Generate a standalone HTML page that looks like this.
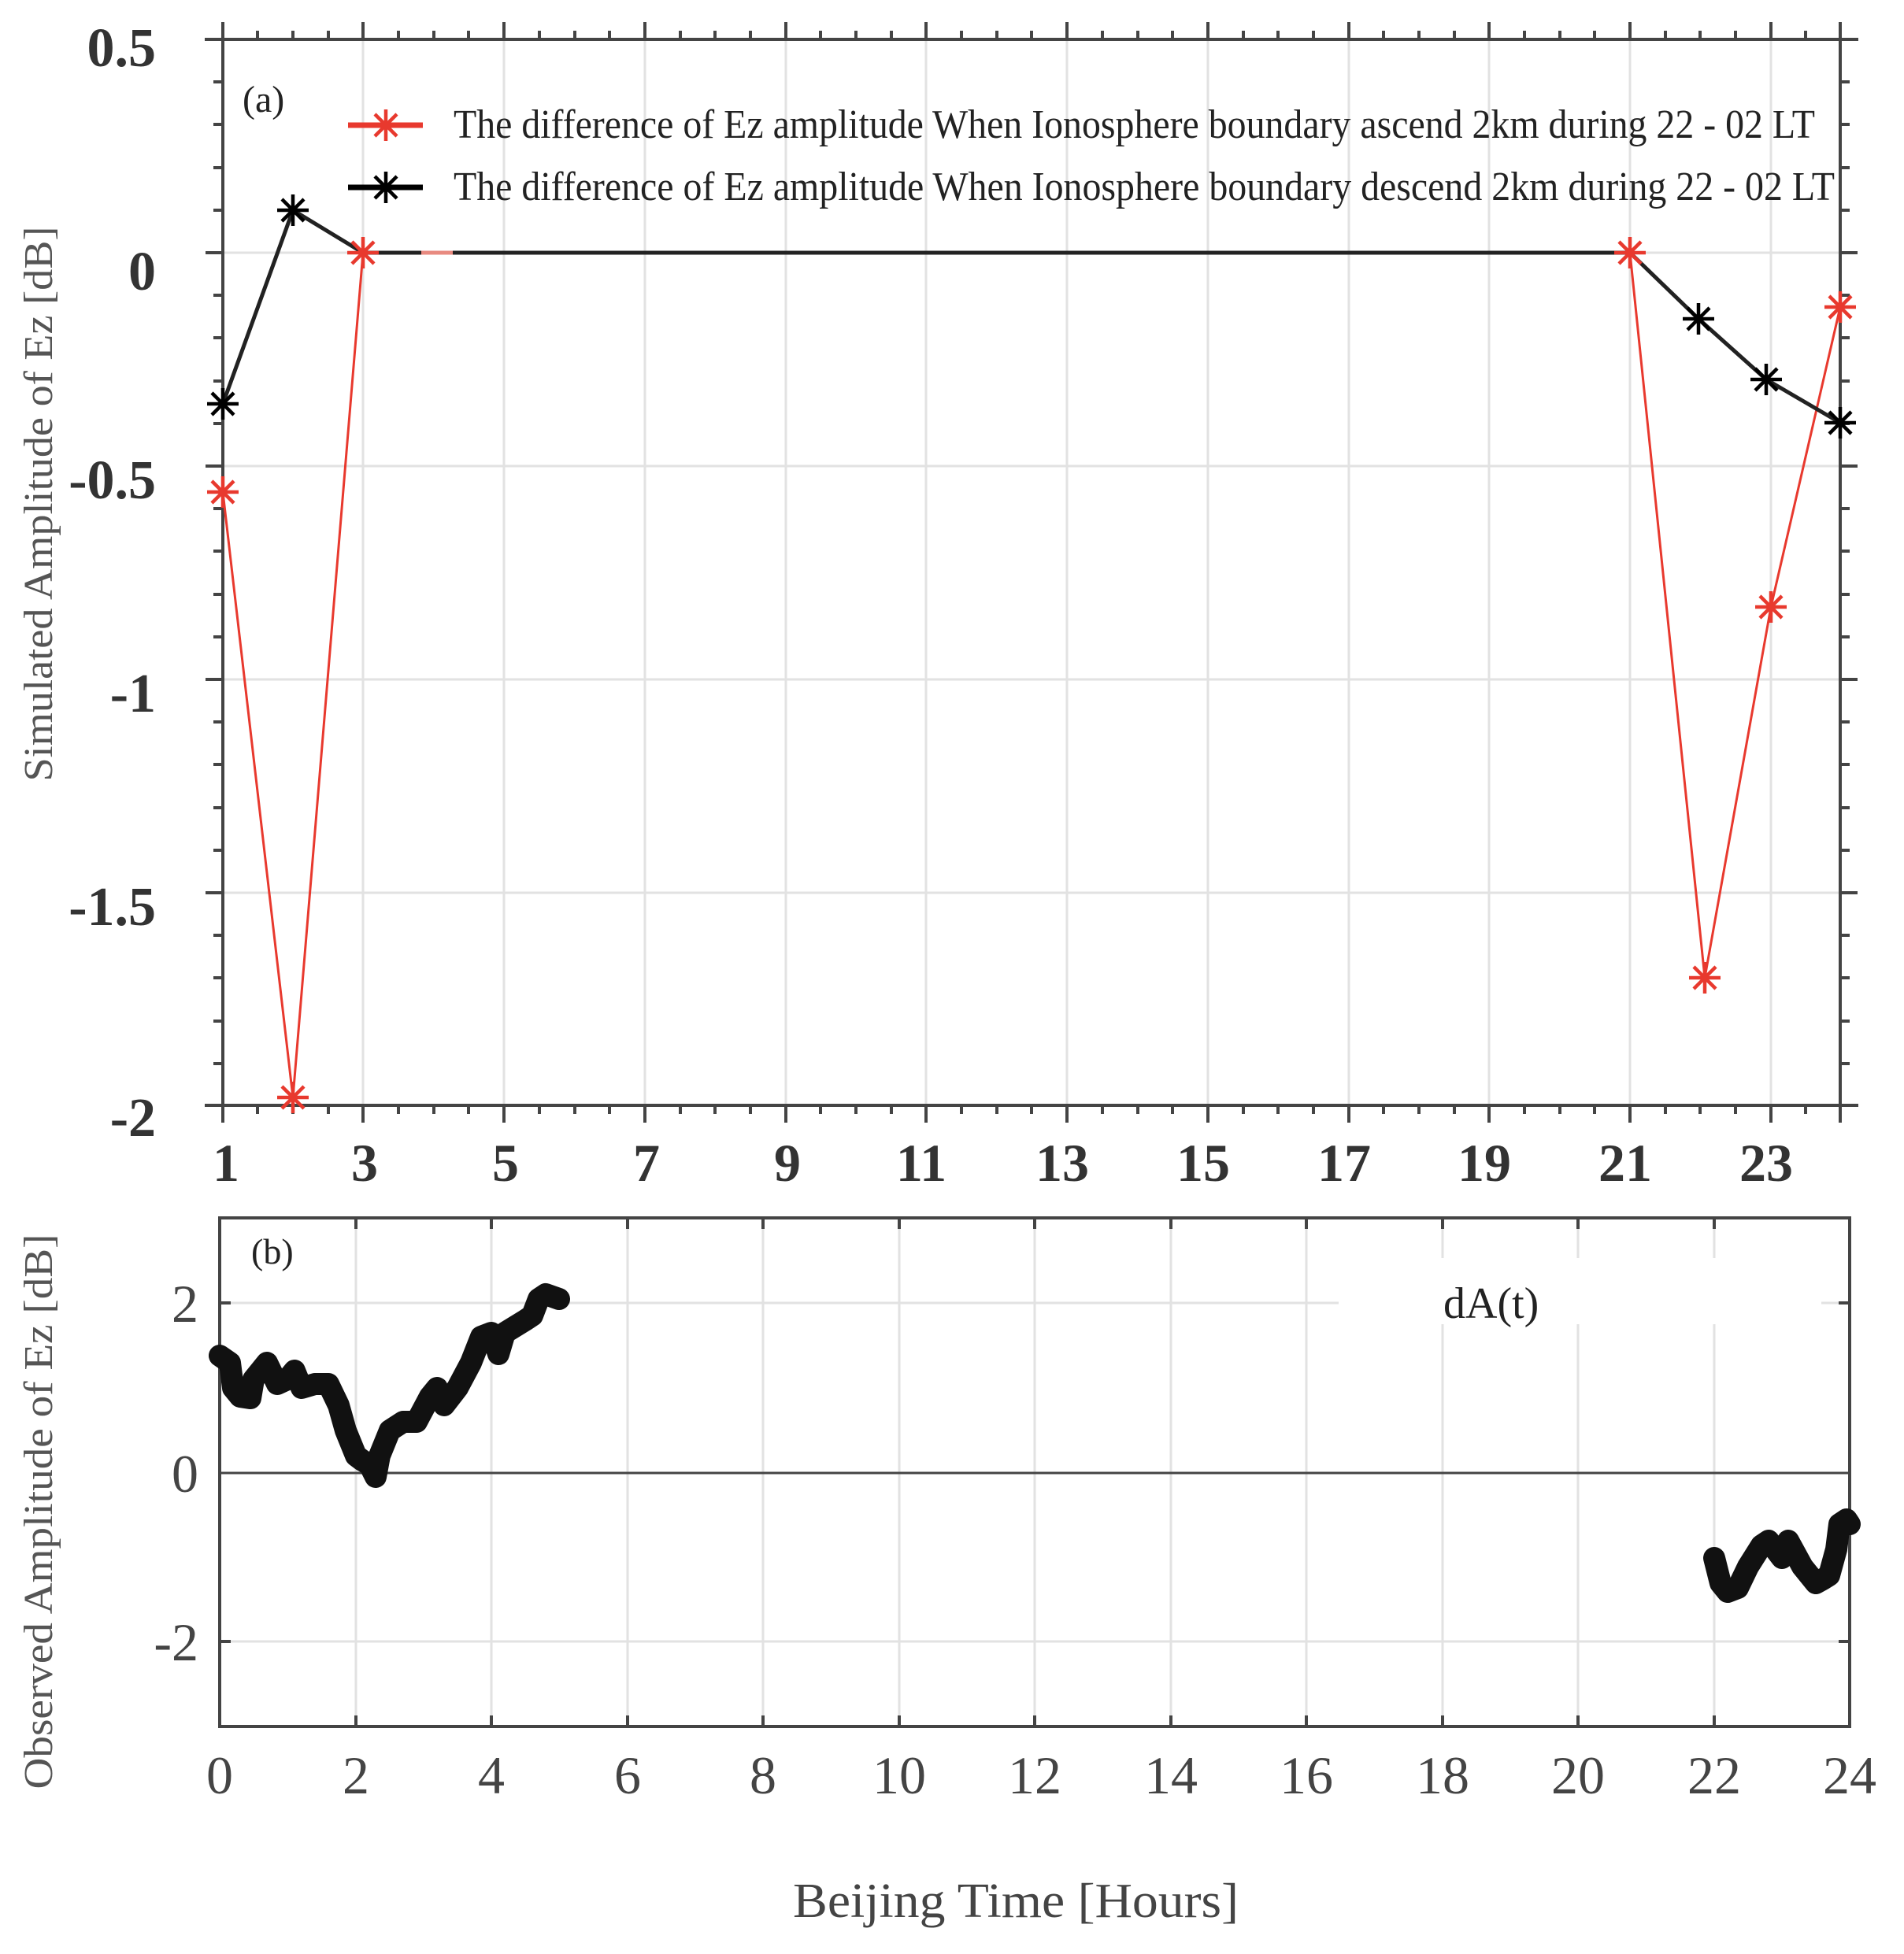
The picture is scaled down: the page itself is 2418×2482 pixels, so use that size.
<!DOCTYPE html>
<html><head><meta charset="utf-8"><style>html,body{margin:0;padding:0;background:#fff}svg{display:block}</style></head>
<body>
<svg width="2418" height="2482" viewBox="0 0 2418 2482" xmlns="http://www.w3.org/2000/svg" font-family="Liberation Serif, serif">
<defs>
<g id="ast"><path d="M-20,0H20M0,-20V20M-14,-14L14,14M-14,14L14,-14" stroke-width="4.5"/></g>
</defs>
<!-- Panel (a) grid -->
<g stroke="#e2e2e2" stroke-width="3">
<line x1="461" y1="50" x2="461" y2="1404"/><line x1="640" y1="50" x2="640" y2="1404"/><line x1="819" y1="50" x2="819" y2="1404"/><line x1="998" y1="50" x2="998" y2="1404"/><line x1="1176" y1="50" x2="1176" y2="1404"/><line x1="1355" y1="50" x2="1355" y2="1404"/><line x1="1534" y1="50" x2="1534" y2="1404"/><line x1="1713" y1="50" x2="1713" y2="1404"/><line x1="1891" y1="50" x2="1891" y2="1404"/><line x1="2070" y1="50" x2="2070" y2="1404"/><line x1="2249" y1="50" x2="2249" y2="1404"/>
<line x1="283" y1="321" x2="2337" y2="321"/><line x1="283" y1="592" x2="2337" y2="592"/><line x1="283" y1="863" x2="2337" y2="863"/><line x1="283" y1="1134" x2="2337" y2="1134"/>
</g>
<!-- Panel (a) axes -->
<g stroke="#444" stroke-width="4" fill="none">
<line x1="260" y1="50" x2="2360" y2="50"/><line x1="260" y1="1404" x2="2360" y2="1404"/>
<line x1="283" y1="28" x2="283" y2="1426"/><line x1="2337" y1="28" x2="2337" y2="1426"/>
</g>
<g stroke="#444" stroke-width="4">
<path d="M283,50v-22M372,50v-11M461,50v-22M551,50v-11M640,50v-22M730,50v-11M819,50v-22M908,50v-11M998,50v-22M1087,50v-11M1176,50v-22M1266,50v-11M1355,50v-22M1445,50v-11M1534,50v-22M1623,50v-11M1713,50v-22M1802,50v-11M1891,50v-22M1981,50v-11M2070,50v-22M2159,50v-11M2249,50v-22M2337,50v-11"/>
<path d="M327,50v-11M417,50v-11M506,50v-11M595,50v-11M685,50v-11M774,50v-11M864,50v-11M953,50v-11M1042,50v-11M1132,50v-11M1221,50v-11M1310,50v-11M1400,50v-11M1489,50v-11M1579,50v-11M1668,50v-11M1757,50v-11M1847,50v-11M1936,50v-11M2025,50v-11M2115,50v-11M2204,50v-11M2293,50v-11"/>
<path d="M283,1404v22M372,1404v11M461,1404v22M551,1404v11M640,1404v22M730,1404v11M819,1404v22M908,1404v11M998,1404v22M1087,1404v11M1176,1404v22M1266,1404v11M1355,1404v22M1445,1404v11M1534,1404v22M1623,1404v11M1713,1404v22M1802,1404v11M1891,1404v22M1981,1404v11M2070,1404v22M2159,1404v11M2249,1404v22M2337,1404v11"/>
<path d="M327,1404v11M417,1404v11M506,1404v11M595,1404v11M685,1404v11M774,1404v11M864,1404v11M953,1404v11M1042,1404v11M1132,1404v11M1221,1404v11M1310,1404v11M1400,1404v11M1489,1404v11M1579,1404v11M1668,1404v11M1757,1404v11M1847,1404v11M1936,1404v11M2025,1404v11M2115,1404v11M2204,1404v11M2293,1404v11"/>
<path d="M283,50h-22M283,104h-12M283,158h-12M283,213h-12M283,267h-12M283,321h-22M283,375h-12M283,429h-12M283,484h-12M283,538h-12M283,592h-22M283,646h-12M283,700h-12M283,755h-12M283,809h-12M283,863h-22M283,917h-12M283,971h-12M283,1026h-12M283,1080h-12M283,1134h-22M283,1188h-12M283,1242h-12M283,1297h-12M283,1351h-12M283,1404h-22"/>
<path d="M2337,50h22M2337,104h12M2337,158h12M2337,213h12M2337,267h12M2337,321h22M2337,375h12M2337,429h12M2337,484h12M2337,538h12M2337,592h22M2337,646h12M2337,700h12M2337,755h12M2337,809h12M2337,863h22M2337,917h12M2337,971h12M2337,1026h12M2337,1080h12M2337,1134h22M2337,1188h12M2337,1242h12M2337,1297h12M2337,1351h12M2337,1404h22"/>
</g>
<!-- Panel (a) labels -->
<g font-weight="bold" font-size="70" fill="#333" text-anchor="end">
<text x="198" y="84">0.5</text><text x="198" y="368">0</text><text x="198" y="633">-0.5</text><text x="198" y="904">-1</text><text x="198" y="1175">-1.5</text><text x="198" y="1443">-2</text>
</g>
<g font-weight="bold" font-size="68" fill="#333" text-anchor="middle">
<text x="287" y="1500">1</text><text x="463" y="1500">3</text><text x="642" y="1500">5</text><text x="821" y="1500">7</text><text x="1000" y="1500">9</text><text x="1170" y="1500">11</text><text x="1349" y="1500">13</text><text x="1528" y="1500">15</text><text x="1707" y="1500">17</text><text x="1885" y="1500">19</text><text x="2064" y="1500">21</text><text x="2243" y="1500">23</text>
</g>
<text x="66" y="640" font-size="52" fill="#555" text-anchor="middle" transform="rotate(-90 66 640)" textLength="705" lengthAdjust="spacingAndGlyphs">Simulated Amplitude of Ez [dB]</text>
<text x="308" y="142" font-size="48" fill="#222">(a)</text>
<!-- legend -->
<line x1="442" y1="159" x2="537" y2="159" stroke="#e8392e" stroke-width="7"/>
<use href="#ast" x="490" y="159" stroke="#e8392e"/>
<line x1="442" y1="238" x2="537" y2="238" stroke="#000" stroke-width="7"/>
<use href="#ast" x="490" y="238" stroke="#000"/>
<text x="576" y="175" font-size="52" fill="#222" textLength="1729" lengthAdjust="spacingAndGlyphs">The difference of Ez amplitude When Ionosphere boundary ascend 2km during 22 - 02 LT</text>
<text x="576" y="254" font-size="52" fill="#222" textLength="1754" lengthAdjust="spacingAndGlyphs">The difference of Ez amplitude When Ionosphere boundary descend 2km during 22 - 02 LT</text>
<!-- series -->
<polyline points="283,625 372,1394 461,321 2070,321 2165,1242 2249,771 2337,390" fill="none" stroke="#e8392e" stroke-width="3"/>
<polyline points="283,513 372,267 461,321 2070,321 2157,405 2243,482 2337,537" fill="none" stroke="#222" stroke-width="5"/>
<line x1="535" y1="321" x2="575" y2="321" stroke="#e88a80" stroke-width="5"/>
<g stroke="#000"><use href="#ast" x="283" y="513"/><use href="#ast" x="372" y="267"/><use href="#ast" x="2157" y="405"/><use href="#ast" x="2243" y="482"/><use href="#ast" x="2337" y="537"/></g>
<g stroke="#e8392e"><use href="#ast" x="283" y="625"/><use href="#ast" x="372" y="1394"/><use href="#ast" x="461" y="321"/><use href="#ast" x="2070" y="321"/><use href="#ast" x="2165" y="1242"/><use href="#ast" x="2249" y="771"/><use href="#ast" x="2337" y="390"/></g>

<!-- Panel (b) -->
<g stroke="#e2e2e2" stroke-width="3">
<line x1="452" y1="1547" x2="452" y2="2193"/><line x1="624" y1="1547" x2="624" y2="2193"/><line x1="797" y1="1547" x2="797" y2="2193"/><line x1="969" y1="1547" x2="969" y2="2193"/><line x1="1142" y1="1547" x2="1142" y2="2193"/><line x1="1314" y1="1547" x2="1314" y2="2193"/><line x1="1487" y1="1547" x2="1487" y2="2193"/><line x1="1659" y1="1547" x2="1659" y2="2193"/><line x1="1832" y1="1547" x2="1832" y2="2193"/><line x1="2004" y1="1547" x2="2004" y2="2193"/><line x1="2177" y1="1547" x2="2177" y2="2193"/>
<line x1="279" y1="1655" x2="2349" y2="1655"/><line x1="279" y1="2085" x2="2349" y2="2085"/>
</g>
<rect x="1700" y="1598" width="613" height="84" fill="#fff"/>
<text x="1833" y="1674" font-size="56" fill="#222">dA(t)</text>
<line x1="279" y1="1871" x2="2349" y2="1871" stroke="#444" stroke-width="3"/>
<rect x="279" y="1547" width="2070" height="646" fill="none" stroke="#444" stroke-width="4"/>
<g stroke="#444" stroke-width="4">
<path d="M452,1547v14M624,1547v14M797,1547v14M969,1547v14M1142,1547v14M1314,1547v14M1487,1547v14M1659,1547v14M1832,1547v14M2004,1547v14M2177,1547v14"/>
<path d="M452,2193v-14M624,2193v-14M797,2193v-14M969,2193v-14M1142,2193v-14M1314,2193v-14M1487,2193v-14M1659,2193v-14M1832,2193v-14M2004,2193v-14M2177,2193v-14"/>
<path d="M279,1655h14M279,2085h14M2349,1655h-14M2349,2085h-14"/>
</g>
<g font-size="68" fill="#444" text-anchor="end">
<text x="252" y="1679">2</text><text x="252" y="1895">0</text><text x="252" y="2109">-2</text>
</g>
<g font-size="68" fill="#444" text-anchor="middle">
<text x="279" y="2278">0</text><text x="452" y="2278">2</text><text x="624" y="2278">4</text><text x="797" y="2278">6</text><text x="969" y="2278">8</text><text x="1142" y="2278">10</text><text x="1314" y="2278">12</text><text x="1487" y="2278">14</text><text x="1659" y="2278">16</text><text x="1832" y="2278">18</text><text x="2004" y="2278">20</text><text x="2177" y="2278">22</text><text x="2349" y="2278">24</text>
</g>
<text x="319" y="1605" font-size="46" fill="#222">(b)</text>
<text x="66" y="1920" font-size="52" fill="#555" text-anchor="middle" transform="rotate(-90 66 1920)" textLength="705" lengthAdjust="spacingAndGlyphs">Observed Amplitude of Ez [dB]</text>
<text x="1290" y="2435" font-size="62" fill="#444" text-anchor="middle" textLength="566" lengthAdjust="spacingAndGlyphs">Beijing Time [Hours]</text>
<g fill="none" stroke="#111" stroke-width="28" stroke-linejoin="round" stroke-linecap="round">
<polyline points="279,1722 292,1731 296,1763 305,1774 318,1776 322,1752 339,1731 352,1758 365,1752 374,1741 383,1763 400,1758 417,1758 430,1785 439,1817 452,1849 460,1855 469,1860 477,1876 482,1849 495,1817 512,1806 529,1806 546,1774 555,1763 564,1785 581,1763 598,1731 611,1698 624,1693 633,1720 641,1693 667,1677 676,1671 684,1650 693,1644 710,1650"/>
<polyline points="2177,1979 2185,2011 2194,2022 2207,2017 2220,1990 2237,1963 2246,1957 2263,1979 2271,1957 2289,1990 2306,2011 2315,2006 2323,2001 2332,1968 2336,1936 2345,1930 2349,1936"/>
</g>
</svg>
</body></html>
